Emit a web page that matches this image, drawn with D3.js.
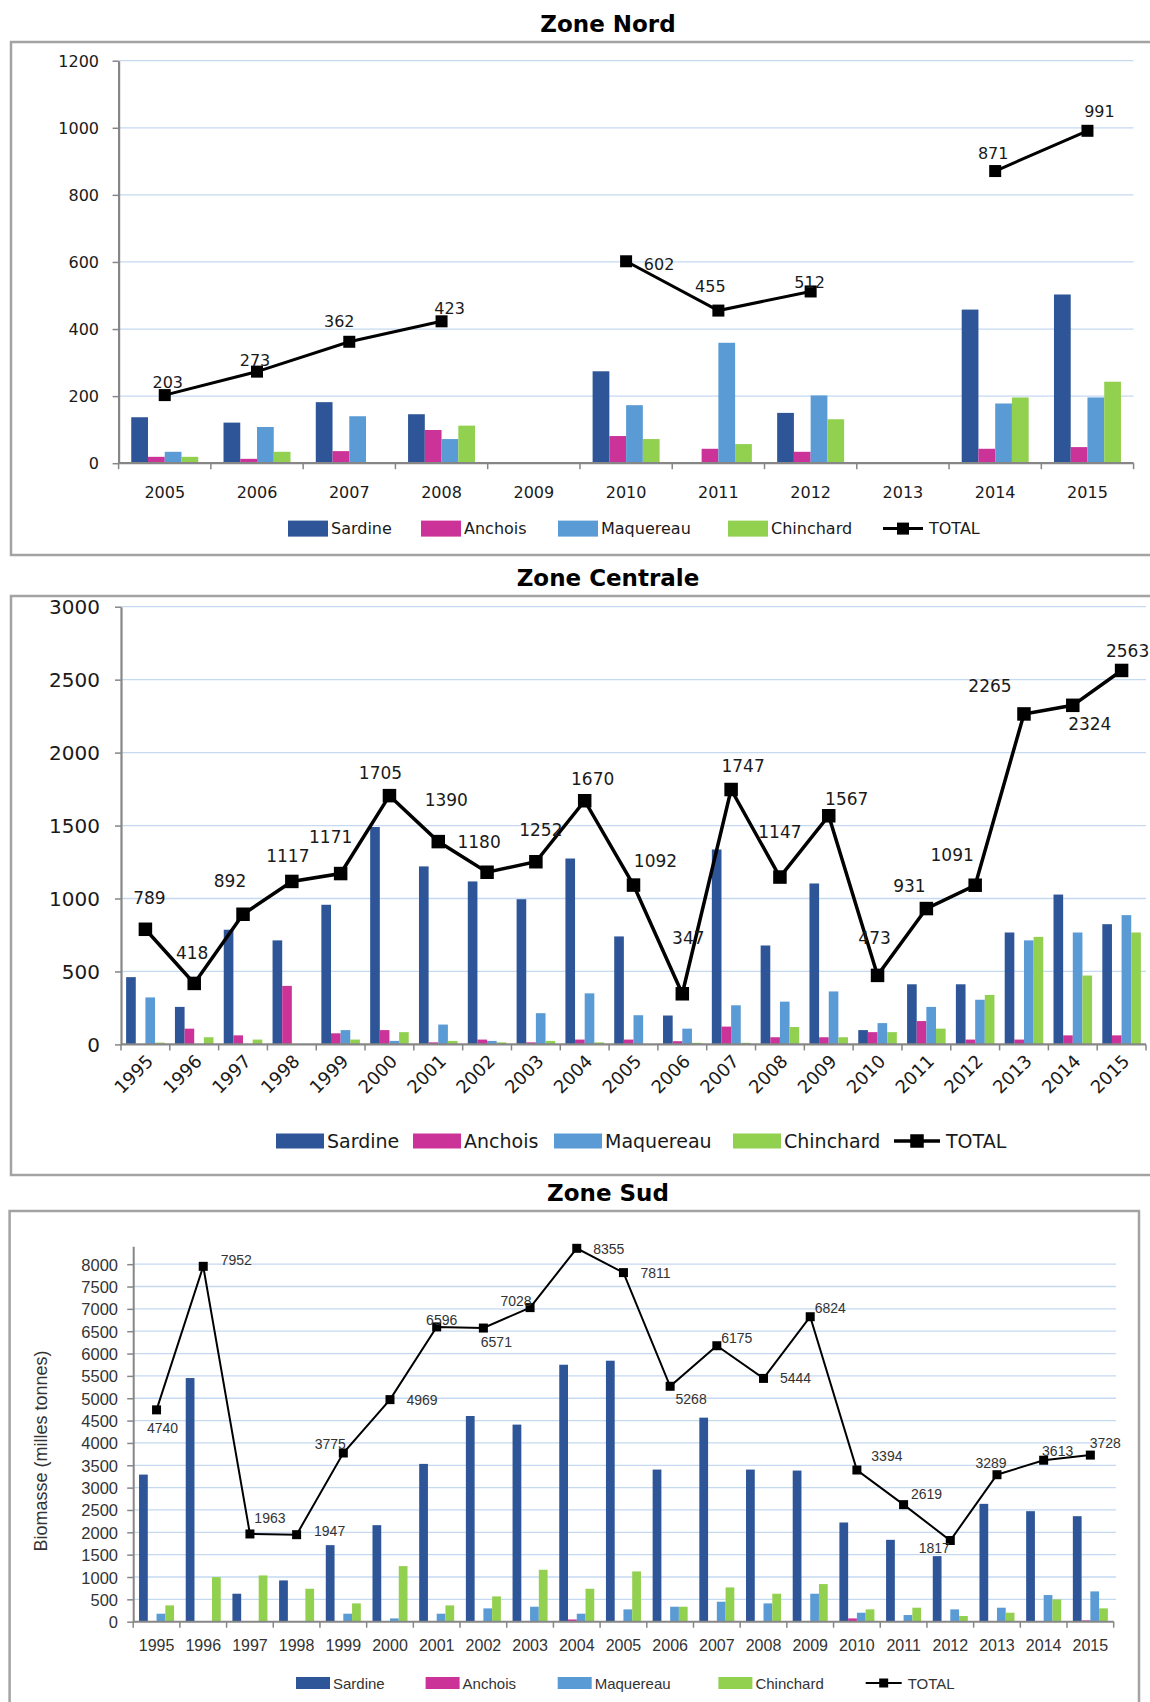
<!DOCTYPE html>
<html><head><meta charset="utf-8">
<script src="https://cdn.jsdelivr.net/npm/d3@7"></script>
<style>body{margin:0;background:#fff}svg{display:block}</style>
</head><body><svg id="c" width="1150" height="1702"></svg>
<script>
// ---------------- DATA ----------------
const seriesNames = ["Sardine", "Anchois", "Maquereau", "Chinchard"];
const totalName = "TOTAL";

const nordYears = ["2005","2006","2007","2008","2009","2010","2011","2012","2013","2014","2015"];
const nordSardine   = [137, 121, 182, 146, 0, 274,   0, 150, 0, 458, 503];
const nordAnchois   = [ 19,  13,  36,  99, 0,  81,  43,  34, 0,  43,  48];
const nordMaquereau = [ 34, 108, 140,  72, 0, 173, 359, 202, 0, 178, 196];
const nordChinchard = [ 19,  34,   3, 112, 0,  72,  57, 131, 0, 196, 243];
const nordTotal     = [203, 273, 362, 423, null, 602, 455, 512, null, 871, 991];
const nordTicks     = [0, 200, 400, 600, 800, 1000, 1200];

const centraleYears = ["1995","1996","1997","1998","1999","2000","2001","2002","2003","2004","2005","2006","2007","2008","2009","2010","2011","2012","2013","2014","2015"];
const centraleSardine   = [461, 257, 786, 713, 957, 1490, 1220, 1117, 995, 1274, 740, 198, 1336, 678, 1103, 98, 412, 412, 767, 1027, 824];
const centraleAnchois   = [  0, 108,  62, 401,  76,   98,   14,   33,  14,   33,  33,  22,  122,  49,   49, 84, 160,  33,  33,   62,  62];
const centraleMaquereau = [322,   0,   0,   0,  98,   24,  136,   24, 214,  350, 200, 108,  268, 293,  363, 146, 257, 306, 713, 767, 886];
const centraleChinchard = [ 12,  49,  33,   0,  33,   84,   24,   14,  24,   14,   0,  11,   11, 119,   49, 84, 108, 339, 737, 472, 767];
const centraleTotal     = [789, 418, 892, 1117, 1171, 1705, 1390, 1180, 1252, 1670, 1092, 347, 1747, 1147, 1567, 473, 931, 1091, 2265, 2324, 2563];
const centraleTicks     = [0, 500, 1000, 1500, 2000, 2500, 3000];

const sudYears = ["1995","1996","1997","1998","1999","2000","2001","2002","2003","2004","2005","2006","2007","2008","2009","2010","2011","2012","2013","2014","2015"];
const sudSardine   = [3292, 5452,  626,  924, 1713, 2160, 3531, 4603, 4410, 5750, 5840, 3404, 4566, 3404, 3382, 2220, 1832, 1467, 2637, 2473, 2361];
const sudAnchois   = [   0,    0,    0,    0,    0,    0,    0,    0,    0,   50,    0,    0,    0,    0,    0,   74,    0,    0,    0,    0,   30];
const sudMaquereau = [ 179,    0,    0,    0,  179,   74,  179,  298,  335,  179,  276,  335,  447,  410,  626,  201,  149,  276,  313,  596,  678];
const sudChinchard = [ 365,  998, 1035,  737,  410, 1244,  365,  566, 1162,  737, 1125,  335,  767,  626,  842,  276,  313,  127,  201,  499,  298];
const sudTotal     = [4740, 7952, 1963, 1947, 3775, 4969, 6596, 6571, 7028, 8355, 7811, 5268, 6175, 5444, 6824, 3394, 2619, 1817, 3289, 3613, 3728];
const sudTicks     = [0,500,1000,1500,2000,2500,3000,3500,4000,4500,5000,5500,6000,6500,7000,7500,8000];
const sudAxisTitle = "Biomasse (milles tonnes)";

// ---------------- STYLE / LAYOUT ----------------
const seriesColors = ["#2E5597", "#CC3399", "#5B9BD5", "#92D050"];
// data-label offsets (px) relative to each marker
const nordLabelOffsets = [[3,-13],[-2,-11],[-10,-20],[8,-13],null,[33,3],[-8,-24],[-1,-9],null,[-2,-18],[12,-19]];
const centraleLabelOffsets = [[4,-31],[-2,-30],[-13,-33],[-4,-25],[-10,-37],[-9,-23],[8,-42],[-8,-30],[5,-32],[8,-22],[22,-24],[6,-56],[12,-24],[0,-45],[18,-17],[-3,-37],[-17,-23],[-23,-30],[-34,-28],[17,19],[6,-19]];
const sudLabelOffsets = [[6,18],[33,-6],[20,-16],[33,-4],[-13,-9],[32,0],[5,-7],[13,14],[-14,-7],[32,1],[32,0],[21,13],[20,-8],[32,0],[20,-9],[30,-14],[23,-11],[-16,8],[-6,-12],[14,-9],[15,-12]];

const panels = [
  { title: "Zone Nord", titleY: 24, frame: [11, 42, 1150, 513],
    years: nordYears, values: [nordSardine, nordAnchois, nordMaquereau, nordChinchard], total: nordTotal, ticks: nordTicks,
    offsets: nordLabelOffsets, domainMax: 1200,
    left: 118.6, right: 1133.6, yTop: 60.7, y0: 463.2, groupFrac: 0.726, gridRight: 1133.6,
    font: "DejaVu Sans", tickSize: 16, tickRight: 99, xLabelY: 492, xRotate: false, xTickSize: 16,
    labelSize: 16, labelFont: "DejaVu Sans", markerSize: 12, lineWidth: 3, axisW: 2.2,
    legendY: 528.6, legendSize: 16, swH: 16, legendX: [288, 421, 558, 728, 883], swW: 40, totW: 40, textColor: "#1a1a1a" },
  { title: "Zone Centrale", titleY: 578, frame: [11, 596, 1150, 579],
    years: centraleYears, values: [centraleSardine, centraleAnchois, centraleMaquereau, centraleChinchard], total: centraleTotal, ticks: centraleTicks,
    offsets: centraleLabelOffsets, domainMax: 3000,
    left: 121, right: 1146, yTop: 606.7, y0: 1044.4, groupFrac: 0.79, gridRight: 1146,
    font: "DejaVu Sans", tickSize: 20, tickRight: 100, xRotate: true, xTickSize: 18,
    labelSize: 17, labelFont: "DejaVu Sans", markerSize: 13.5, lineWidth: 3.5, axisW: 2.2,
    legendY: 1141, legendSize: 19, swH: 15, legendX: [276, 413, 554, 733, 894], swW: 48, totW: 46, textColor: "#1a1a1a" },
  { title: "Zone Sud", titleY: 1193, frame: [9.6, 1211, 1129.4, 520],
    years: sudYears, values: [sudSardine, sudAnchois, sudMaquereau, sudChinchard], total: sudTotal, ticks: sudTicks,
    offsets: sudLabelOffsets, domainMax: 8400,
    left: 133.2, right: 1113.7, yTop: 1246.3, y0: 1621.7, groupFrac: 0.75, gridRight: 1116,
    font: "Liberation Sans", tickSize: 16.5, tickRight: 118, xLabelY: 1645, xRotate: false, xTickSize: 16,
    labelSize: 14, labelFont: "Liberation Sans", markerSize: 9, lineWidth: 2, axisW: 2,
    legendY: 1683, legendSize: 15, swH: 12, legendX: [296, 425.6, 557.7, 718.4, 865.7], swW: 34, totW: 36, textColor: "#333333",
    axisTitle: sudAxisTitle, axisTitleX: 41, axisTitleSize: 18 }
];

const svg = d3.select("#c");
svg.append("rect").attr("width", 1150).attr("height", 1702).attr("fill", "#fff");

panels.forEach(p => {
  const g = svg.append("g");
  g.append("rect").attr("x", p.frame[0]).attr("y", p.frame[1]).attr("width", p.frame[2]).attr("height", p.frame[3])
    .attr("fill", "#fff").attr("stroke", "#a3a3a3").attr("stroke-width", 2.5);
  g.append("text").attr("x", 608).attr("y", p.titleY).attr("text-anchor", "middle").attr("dominant-baseline", "central")
    .attr("font-family", "DejaVu Sans").attr("font-weight", "bold").attr("font-size", 23).attr("fill", "#000").text(p.title);

  const y = d3.scaleLinear().domain([0, p.domainMax]).range([p.y0, p.yTop]);
  const x0 = d3.scaleBand().domain(p.years).range([p.left, p.right]).padding(0);
  const bw = x0.bandwidth();
  const x1 = d3.scaleBand().domain(seriesNames).range([0, bw * p.groupFrac]).padding(0);
  const gOff = bw * (1 - p.groupFrac) / 2;

  g.append("g").selectAll("line").data(p.ticks.filter(t => t > 0)).join("line")
    .attr("x1", p.left).attr("x2", p.gridRight).attr("y1", d => y(d)).attr("y2", d => y(d))
    .attr("stroke", "#c5d9f1").attr("stroke-width", 1.3);

  seriesNames.forEach((s, si) => {
    g.append("g").selectAll("rect").data(p.values[si]).join("rect")
      .attr("x", (d, i) => x0(p.years[i]) + gOff + x1(s))
      .attr("width", x1.bandwidth())
      .attr("y", d => y(d)).attr("height", d => p.y0 - y(d))
      .attr("fill", seriesColors[si]);
  });

  const yAxis = d3.axisLeft(y).tickValues(p.ticks).tickFormat(d3.format("d")).tickSize(6).tickPadding(0).tickSizeOuter(0);
  const ya = g.append("g").attr("transform", `translate(${p.left},0)`).call(yAxis);
  ya.select(".domain").attr("stroke", "#868686").attr("stroke-width", p.axisW);
  ya.selectAll(".tick line").attr("stroke", "#868686").attr("stroke-width", 1.5);
  ya.selectAll(".tick text").attr("x", p.tickRight - p.left).attr("dy", null).attr("dominant-baseline", "central")
    .attr("font-family", p.font).attr("font-size", p.tickSize).attr("fill", p.textColor);

  g.append("line").attr("x1", p.left).attr("x2", p.right).attr("y1", p.y0).attr("y2", p.y0)
    .attr("stroke", "#868686").attr("stroke-width", p.axisW);
  const bounds = p.years.map(d => x0(d)).concat([p.right]);
  g.append("g").selectAll("line").data(bounds).join("line")
    .attr("x1", d => d).attr("x2", d => d).attr("y1", p.y0).attr("y2", p.y0 + 6)
    .attr("stroke", "#868686").attr("stroke-width", 1.5);

  const xl = g.append("g").selectAll("text").data(p.years).join("text")
    .attr("font-family", p.font).attr("font-size", p.xTickSize).attr("fill", p.textColor).text(d => d);
  if (p.xRotate) {
    xl.attr("text-anchor", "end")
      .attr("transform", d => `translate(${x0(d) + bw / 2 + 9},${p.y0 + 18}) rotate(-45)`);
  } else {
    xl.attr("text-anchor", "middle").attr("dominant-baseline", "central")
      .attr("x", d => x0(d) + bw / 2).attr("y", p.xLabelY);
  }

  const pts = p.total.map((v, i) => ({ v, i, yr: p.years[i] }));
  const line = d3.line().defined(d => d.v !== null).x(d => x0(d.yr) + bw / 2).y(d => y(d.v));
  g.append("path").datum(pts).attr("d", line).attr("fill", "none").attr("stroke", "#000").attr("stroke-width", p.lineWidth);
  const valid = pts.filter(d => d.v !== null);
  g.append("g").selectAll("rect").data(valid).join("rect")
    .attr("x", d => x0(d.yr) + bw / 2 - p.markerSize / 2).attr("y", d => y(d.v) - p.markerSize / 2)
    .attr("width", p.markerSize).attr("height", p.markerSize).attr("fill", "#000");
  g.append("g").selectAll("text").data(valid).join("text")
    .attr("x", d => x0(d.yr) + bw / 2 + p.offsets[d.i][0]).attr("y", d => y(d.v) + p.offsets[d.i][1])
    .attr("text-anchor", "middle").attr("dominant-baseline", "central")
    .attr("font-family", p.labelFont).attr("font-size", p.labelSize).attr("fill", p.textColor).text(d => d.v);

  if (p.axisTitle) {
    g.append("text").attr("transform", `translate(${p.axisTitleX},${(p.y0 + y(8000)) / 2 + 8}) rotate(-90)`)
      .attr("text-anchor", "middle").attr("dominant-baseline", "central")
      .attr("font-family", p.font).attr("font-size", p.axisTitleSize).attr("fill", p.textColor).text(p.axisTitle);
  }

  const lg = g.append("g");
  seriesNames.forEach((s, si) => {
    const lx = p.legendX[si];
    lg.append("rect").attr("x", lx).attr("y", p.legendY - p.swH / 2).attr("width", p.swW).attr("height", p.swH).attr("fill", seriesColors[si]);
    lg.append("text").attr("x", lx + p.swW + 3).attr("y", p.legendY).attr("dominant-baseline", "central")
      .attr("font-family", p.font).attr("font-size", p.legendSize).attr("fill", p.textColor).text(s);
  });
  const tx = p.legendX[4];
  lg.append("line").attr("x1", tx).attr("x2", tx + p.totW).attr("y1", p.legendY).attr("y2", p.legendY)
    .attr("stroke", "#000").attr("stroke-width", p.lineWidth);
  lg.append("rect").attr("x", tx + p.totW / 2 - p.markerSize / 2).attr("y", p.legendY - p.markerSize / 2)
    .attr("width", p.markerSize).attr("height", p.markerSize).attr("fill", "#000");
  lg.append("text").attr("x", tx + p.totW + 6).attr("y", p.legendY).attr("dominant-baseline", "central")
    .attr("font-family", p.font).attr("font-size", p.legendSize).attr("fill", p.textColor).text(totalName);
});
</script></body></html>
